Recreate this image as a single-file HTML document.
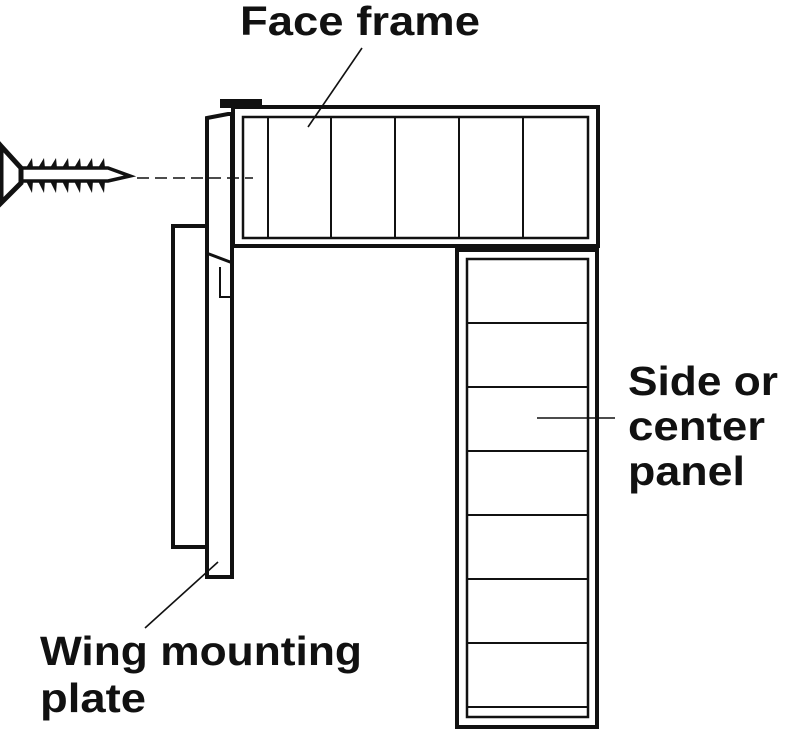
<!DOCTYPE html>
<html><head><style>body{margin:0;background:#fff}svg{display:block}text{font-family:"Liberation Sans",Arial,sans-serif;font-weight:bold;font-size:41px;fill:#111}</style></head><body>
<svg width="786" height="730" viewBox="0 0 786 730" xmlns="http://www.w3.org/2000/svg">
<g fill="none" stroke="#111" stroke-linecap="square">
<rect x="233" y="107" width="365" height="139" stroke-width="4"/>
<rect x="243" y="117" width="345" height="121" stroke-width="2.5"/>
<g stroke-width="2"><line x1="268" y1="117" x2="268" y2="238"/><line x1="331" y1="117" x2="331" y2="238"/><line x1="395" y1="117" x2="395" y2="238"/><line x1="459" y1="117" x2="459" y2="238"/><line x1="523" y1="117" x2="523" y2="238"/></g>
<rect x="457" y="250" width="140" height="477" stroke-width="4"/>
<rect x="467" y="259" width="121" height="458" stroke-width="2.5"/>
<g stroke-width="2"><line x1="467" y1="323" x2="588" y2="323"/><line x1="467" y1="387" x2="588" y2="387"/><line x1="467" y1="451" x2="588" y2="451"/><line x1="467" y1="515" x2="588" y2="515"/><line x1="467" y1="579" x2="588" y2="579"/><line x1="467" y1="643" x2="588" y2="643"/><line x1="467" y1="707" x2="588" y2="707"/></g>
<path d="M207 118 L228 114 L232 114 L232 577 L207 577 Z" stroke-width="4"/>
<rect x="173" y="226" width="34" height="321" stroke-width="4"/>
<path d="M209 254 L230 262" stroke-width="3"/>
<path d="M220 268 L220 297 L230 297" stroke-width="2"/>
<g stroke-width="1.6" stroke-linecap="butt"><line x1="362" y1="48" x2="308" y2="127"/><line x1="537" y1="418" x2="615" y2="418"/><line x1="218" y1="562" x2="145" y2="628"/>
<line x1="137" y1="178" x2="253" y2="178" stroke-dasharray="12,6"/></g>
<path d="M1 146 L21 168 L21 183 L1 203 Z" stroke-width="5" stroke-linejoin="miter"/>
<path d="M21 168 L108 168 L130 176 L108 181 L21 181" stroke-width="3.5" stroke-linejoin="miter"/>
</g>
<rect x="220" y="99" width="42" height="9" fill="#111"/>
<g fill="#111">
<path d="M26 168 l6 -10 l1 10z M38 168 l6 -10 l1 10z M50 168 l6 -10 l1 10z M62 168 l6 -10 l1 10z M74 168 l6 -10 l1 10z M86 168 l6 -10 l1 10z M98 168 l6 -10 l1 10z"/>
<path d="M26 181 l6 12 l1 -12z M38 181 l6 12 l1 -12z M50 181 l6 12 l1 -12z M62 181 l6 12 l1 -12z M74 181 l6 12 l1 -12z M86 181 l6 12 l1 -12z M98 181 l6 12 l1 -12z"/>
</g>
<text x="240" y="35" textLength="240" lengthAdjust="spacingAndGlyphs">Face frame</text>
<text x="628" y="395" textLength="150" lengthAdjust="spacingAndGlyphs">Side or</text>
<text x="628" y="440" textLength="137" lengthAdjust="spacingAndGlyphs">center</text>
<text x="628" y="485" textLength="117" lengthAdjust="spacingAndGlyphs">panel</text>
<text x="40" y="665" textLength="322" lengthAdjust="spacingAndGlyphs">Wing mounting</text>
<text x="40" y="712" textLength="106" lengthAdjust="spacingAndGlyphs">plate</text>
</svg>
</body></html>
